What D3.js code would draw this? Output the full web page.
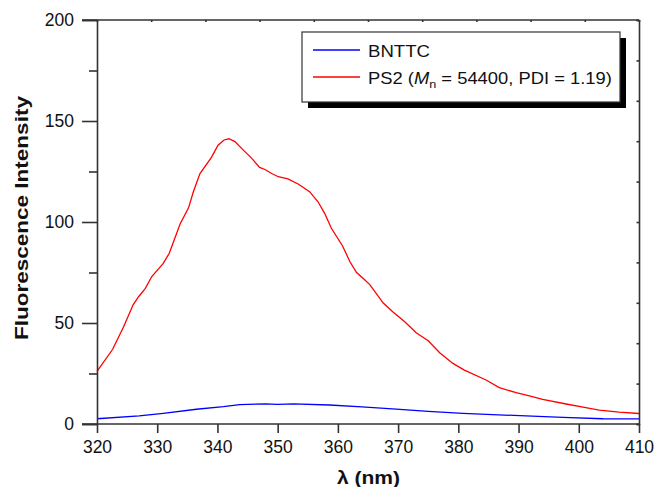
<!DOCTYPE html>
<html><head><meta charset="utf-8">
<script src="https://cdn.jsdelivr.net/npm/d3@7"></script>
<style>html,body{margin:0;padding:0;background:#fff;}svg{display:block;}</style>
</head><body>
<svg id="chart" width="656" height="487"></svg>
<script>
const xTicks = [320,330,340,350,360,370,380,390,400,410];
const yTicks = [0,50,100,150,200];
const yMinorTicks = [25,75,125,175];

const ps2Lambda = [320,322.6,324.4,326,326.9,328,329.1,331,332,333.8,335.2,336,337.1,339,340.1,341.1,341.9,342.9,344.3,345.7,347,347.9,349,350.1,351.7,353.4,355.3,356.7,357.8,358.9,360.8,362,363.1,364.4,365.3,367.5,369.1,371.1,373,375,376.9,379.1,381,384.6,386.8,389.6,391.8,394,397.9,400.7,403.4,406.7,410];
const ps2Values = [26,37,48,59,63,67,73,79.5,84.5,99,107,115,124,132,138,140.6,141.2,139.8,135.6,131.5,127,126,124,122.4,121.3,118.8,115,110,104.3,97,88,80.3,75,71.5,69,60,55.6,50.6,45.2,41.2,35.3,30,26.7,21.8,18,15.5,13.9,12.2,9.9,8.3,6.9,5.9,5.2];

const bnLambda = [320,327,331,336.5,341,343.7,348,350,352.6,358.6,364,369.7,375,380.8,390.2,397.4,404,410];
const bnValues = [2.6,4,5.3,7.3,8.6,9.6,10,9.7,10,9.4,8.5,7.4,6.3,5.3,4.1,3.3,2.6,2.5];

const svg = d3.select("#chart");
const L = 97, R = 639, T = 20, B = 424;
const x = d3.scaleLinear().domain([320,410]).range([L,R]);
const y = d3.scaleLinear().domain([0,200]).range([B,T]);
const axisColor = "#333";
const font = "Liberation Sans, Arial, sans-serif";

// stretch a text element horizontally to a target width (anchor at x0)
function fitWidth(sel, x0, target) {
  const w = sel.node().getComputedTextLength();
  const s = target / w;
  sel.attr("transform", `translate(${x0},0) scale(${s},1) translate(${-x0},0)`);
}

// lines
const line = d3.line().x(d=>x(d[0])).y(d=>y(d[1]));
svg.append("path").datum(bnLambda.map((l,i)=>[l,bnValues[i]]))
  .attr("d", line).attr("fill","none").attr("stroke","#0000ff").attr("stroke-width",1.3);
svg.append("path").datum(ps2Lambda.map((l,i)=>[l,ps2Values[i]]))
  .attr("d", line).attr("fill","none").attr("stroke","#ff0000").attr("stroke-width",1.3);

// bottom axis
const gx = svg.append("g").attr("transform",`translate(0,${B})`)
  .call(d3.axisBottom(x).tickValues(xTicks).tickSize(9).tickPadding(5).tickFormat(d3.format("d")));
// left axis
const gy = svg.append("g").attr("transform",`translate(${L},0)`)
  .call(d3.axisLeft(y).tickValues(yTicks).tickSize(15).tickPadding(8));
const gym = svg.append("g").attr("transform",`translate(${L},0)`)
  .call(d3.axisLeft(y).tickValues(yMinorTicks).tickSize(8).tickFormat(""));
// top axis (10 divisions)
const xTop = d3.scaleLinear().domain([0,10]).range([L,R]);
const gt = svg.append("g").attr("transform",`translate(0,${T})`)
  .call(d3.axisTop(xTop).tickValues(d3.range(0,11)).tickSize(-2).tickFormat(""));
const yRight = d3.scaleLinear().domain([0,10]).range([B,T]);
const gr = svg.append("g").attr("transform",`translate(${R},0)`)
  .call(d3.axisRight(yRight).tickValues(d3.range(0,11)).tickSize(-2.5).tickFormat(""));
[gx,gy,gym,gt,gr].forEach(g=>{
  g.selectAll(".domain").attr("stroke",axisColor).attr("stroke-width",1.6);
  g.selectAll(".tick line").attr("stroke",axisColor).attr("stroke-width",1.6);
  g.selectAll(".tick text").attr("font-family",font).attr("font-size",17.5).attr("fill","#111");
});
gym.select(".domain").remove();
gt.select(".domain").attr("d",`M${L-15},0H${R}`);
gx.select(".domain").attr("d",`M${L-15},0H${R}`);
gx.selectAll(".tick text").attr("dy","0.85em");

// axis titles
const xt = svg.append("text").attr("x",337).attr("y",484)
  .attr("font-family",font).attr("font-size",18).attr("font-weight","bold").attr("fill","#111").text("λ (nm)");
fitWidth(xt, 337, 63);
const ytg = svg.append("g").attr("transform",`translate(28,340) rotate(-90)`);
const yt = ytg.append("text").attr("x",0).attr("y",0)
  .attr("font-family",font).attr("font-size",18).attr("font-weight","bold").attr("fill","#111").text("Fluorescence Intensity");
fitWidth(yt, 0, 244);

// legend
const lg = svg.append("g");
lg.append("rect").attr("x",308).attr("y",38).attr("width",318).attr("height",70).attr("fill","#000");
lg.append("rect").attr("x",302).attr("y",32).attr("width",318).attr("height",70)
  .attr("fill","#fff").attr("stroke","#333").attr("stroke-width",1.2);
const legendItems = [
  {color:"#0000ff", y:50},
  {color:"#ff0000", y:77}
];
legendItems.forEach(it=>{
  lg.append("line").attr("x1",313).attr("x2",360).attr("y1",it.y).attr("y2",it.y)
    .attr("stroke",it.color).attr("stroke-width",1.3);
});
const t1 = lg.append("text").attr("x",368).attr("y",57).attr("font-family",font).attr("font-size",16).attr("fill","#111").text("BNTTC");
fitWidth(t1, 368, 62);
const t2 = lg.append("text").attr("x",368).attr("y",84).attr("font-family",font).attr("font-size",16).attr("fill","#111");
t2.append("tspan").text("PS2 (");
t2.append("tspan").attr("font-style","italic").text("M");
t2.append("tspan").attr("font-size",11).attr("dy",4).text("n");
t2.append("tspan").attr("dy",-4).text(" = 54400, PDI = 1.19)");
fitWidth(t2, 368, 244);
</script>
</body></html>
